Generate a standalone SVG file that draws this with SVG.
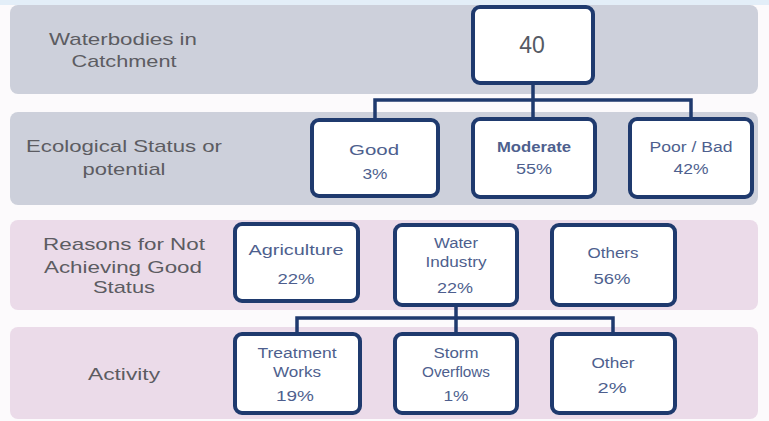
<svg xmlns="http://www.w3.org/2000/svg" width="769" height="421" viewBox="0 0 769 421">
<style>
.band-g{fill:#cdd0db}
.band-p{fill:#ebdbe9}
.lbl{font-family:"Liberation Sans",Arial,sans-serif;font-size:17px;fill:#5c5c62;text-anchor:middle}
.box{fill:#ffffff;stroke:#1f3a6e;stroke-width:4}
.nt{font-family:"Liberation Sans",Arial,sans-serif;font-size:14px;fill:#4e5f8e;text-anchor:middle}
.pc{font-family:"Liberation Sans",Arial,sans-serif;font-size:15px;fill:#4e5f8e;text-anchor:middle}
.conn{fill:none;stroke:#1f3a6e;stroke-width:3.5}
</style>
<rect x="0" y="0" width="769" height="421" fill="#fcfafc"/>
<rect x="0" y="0" width="769" height="5" fill="#e3eef8"/>
<g id="bands">
<rect class="band-g" x="10" y="5" width="748" height="89" rx="8"/>
<rect class="band-g" x="10" y="112" width="748" height="93" rx="8"/>
<rect class="band-p" x="10" y="220" width="748" height="90" rx="8"/>
<rect class="band-p" x="10" y="327" width="748" height="92" rx="8"/>
</g>
<g id="row-labels">
<text class="lbl" x="123" y="45" textLength="148" lengthAdjust="spacingAndGlyphs">Waterbodies in</text>
<text class="lbl" x="124" y="67" textLength="105" lengthAdjust="spacingAndGlyphs">Catchment</text>
<text class="lbl" x="124" y="152" textLength="196" lengthAdjust="spacingAndGlyphs">Ecological Status or</text>
<text class="lbl" x="124" y="175" textLength="83" lengthAdjust="spacingAndGlyphs">potential</text>
<text class="lbl" x="124" y="250" textLength="162" lengthAdjust="spacingAndGlyphs">Reasons for Not</text>
<text class="lbl" x="123" y="273" textLength="158" lengthAdjust="spacingAndGlyphs">Achieving Good</text>
<text class="lbl" x="124" y="293" textLength="62" lengthAdjust="spacingAndGlyphs">Status</text>
<text class="lbl" x="124" y="380" textLength="72" lengthAdjust="spacingAndGlyphs">Activity</text>
</g>
<g id="connectors">
<path class="conn" d="M533 83 V120 M375 118 V100 H691 V118"/>
<path class="conn" d="M456 305 V333 M297 333 V318 H613 V333"/>
</g>
<g id="n40">
<rect class="box" x="473" y="7" width="120" height="76" rx="7"/>
<text x="532" y="53" font-family="Liberation Sans,Arial,sans-serif" font-size="23" fill="#555a64" text-anchor="middle">40</text>
</g>
<g id="good">
<rect class="box" x="312" y="120" width="126" height="76" rx="7"/>
<text class="nt" x="374" y="155" textLength="50" lengthAdjust="spacingAndGlyphs">Good</text>
<text class="pc" x="375" y="179" textLength="25" lengthAdjust="spacingAndGlyphs">3%</text>
</g>
<g id="moderate">
<rect class="box" x="473" y="119" width="122" height="78" rx="7"/>
<text class="nt" x="534" y="152" textLength="74" lengthAdjust="spacingAndGlyphs" font-weight="bold">Moderate</text>
<text class="pc" x="534" y="174" textLength="36" lengthAdjust="spacingAndGlyphs">55%</text>
</g>
<g id="poor">
<rect class="box" x="630" y="119" width="122" height="78" rx="7"/>
<text class="nt" x="691" y="152" textLength="83" lengthAdjust="spacingAndGlyphs">Poor / Bad</text>
<text class="pc" x="691" y="174" textLength="35" lengthAdjust="spacingAndGlyphs">42%</text>
</g>
<g id="agriculture">
<rect class="box" x="235" y="224" width="123" height="77" rx="7"/>
<text class="nt" x="296" y="255" textLength="95" lengthAdjust="spacingAndGlyphs">Agriculture</text>
<text class="pc" x="296" y="284" textLength="37" lengthAdjust="spacingAndGlyphs">22%</text>
</g>
<g id="water-industry">
<rect class="box" x="395" y="225" width="122" height="80" rx="7"/>
<text class="nt" x="456" y="248" textLength="44" lengthAdjust="spacingAndGlyphs">Water</text>
<text class="nt" x="456" y="267" textLength="61" lengthAdjust="spacingAndGlyphs">Industry</text>
<text class="pc" x="455" y="293" textLength="36" lengthAdjust="spacingAndGlyphs">22%</text>
</g>
<g id="others">
<rect class="box" x="552" y="225" width="123" height="80" rx="7"/>
<text class="nt" x="613" y="258" textLength="51" lengthAdjust="spacingAndGlyphs">Others</text>
<text class="pc" x="612" y="284" textLength="37" lengthAdjust="spacingAndGlyphs">56%</text>
</g>
<g id="treatment">
<rect class="box" x="235" y="334" width="125" height="79" rx="7"/>
<text class="nt" x="297" y="358" textLength="79" lengthAdjust="spacingAndGlyphs">Treatment</text>
<text class="nt" x="297" y="377" textLength="48" lengthAdjust="spacingAndGlyphs">Works</text>
<text class="pc" x="295" y="401" textLength="38" lengthAdjust="spacingAndGlyphs">19%</text>
</g>
<g id="storm">
<rect class="box" x="395" y="334" width="122" height="79" rx="7"/>
<text class="nt" x="456" y="358" textLength="45" lengthAdjust="spacingAndGlyphs">Storm</text>
<text class="nt" x="456" y="377" textLength="68" lengthAdjust="spacingAndGlyphs">Overflows</text>
<text class="pc" x="456" y="401" textLength="25" lengthAdjust="spacingAndGlyphs">1%</text>
</g>
<g id="other">
<rect class="box" x="552" y="334" width="123" height="79" rx="7"/>
<text class="nt" x="613" y="368" textLength="43" lengthAdjust="spacingAndGlyphs">Other</text>
<text class="pc" x="612" y="393" textLength="29" lengthAdjust="spacingAndGlyphs">2%</text>
</g>
</svg>
